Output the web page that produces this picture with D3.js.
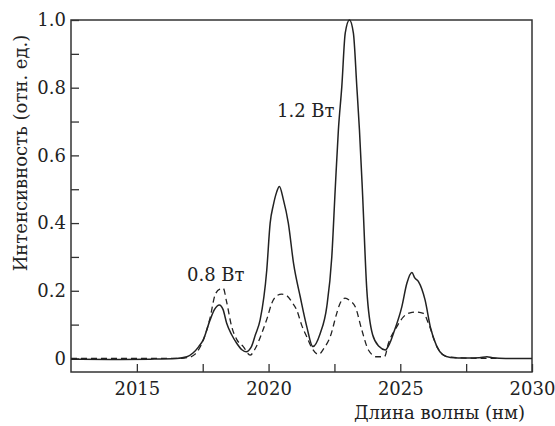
<!DOCTYPE html>
<html>
<head>
<meta charset="utf-8">
<script src="https://cdn.jsdelivr.net/npm/d3@7"></script>
<style>
	body { margin: 0; background: #fff; }
</style>
</head>
<body>
<svg id="chart" width="555" height="426"></svg>
<script>
// 1.2 W spectrum (solid)
const wl12 = [2012.5, 2014.0, 2015.5, 2016.5, 2016.9, 2017.13, 2017.35, 2017.52, 2017.78, 2017.95,
	2018.13, 2018.27, 2018.41, 2018.6, 2018.79, 2019.0, 2019.15, 2019.35, 2019.5, 2019.68,
	2019.93, 2020.06, 2020.18, 2020.3, 2020.41, 2020.56, 2020.75, 2020.95, 2021.2, 2021.45,
	2021.68, 2021.96, 2022.21, 2022.4, 2022.53, 2022.65, 2022.78, 2022.91, 2023.07, 2023.22,
	2023.35, 2023.45, 2023.56, 2023.73, 2023.95, 2024.2, 2024.43, 2024.6, 2024.74, 2025.06,
	2025.25, 2025.44, 2025.55, 2025.69, 2025.94, 2026.15, 2026.39, 2026.6, 2026.9, 2027.5,
	2028.0, 2028.29, 2028.5, 2029.0, 2030.0];
const int12 = [-0.002, -0.003, -0.002, 0.0, 0.005, 0.016, 0.035, 0.055, 0.114, 0.145,
	0.158, 0.145, 0.104, 0.07, 0.045, 0.025, 0.02, 0.035, 0.07, 0.114,
	0.26, 0.40, 0.453, 0.49, 0.508, 0.47, 0.40, 0.28, 0.183, 0.094,
	0.035, 0.074, 0.153, 0.30, 0.50, 0.675, 0.803, 0.961, 1.0, 0.961,
	0.803, 0.675, 0.50, 0.202, 0.07, 0.035, 0.025, 0.045, 0.074, 0.153,
	0.222, 0.254, 0.238, 0.227, 0.173, 0.09, 0.035, 0.012, 0.003, 0.001,
	0.002, 0.005, 0.002, 0.0, 0.0];

// 0.8 W spectrum (dashed)
const wl08 = [2012.5, 2016.5, 2017.0, 2017.2, 2017.5, 2017.78, 2017.97, 2018.15, 2018.28, 2018.4,
	2018.6, 2018.8, 2019.04, 2019.3, 2019.5, 2019.74, 2019.95, 2020.12, 2020.3, 2020.5,
	2020.7, 2020.9, 2021.07, 2021.25, 2021.45, 2021.65, 2021.9, 2022.1, 2022.34, 2022.59,
	2022.72, 2022.9, 2023.1, 2023.29, 2023.54, 2023.79, 2024.1, 2024.4, 2024.55, 2024.87,
	2025.12, 2025.37, 2025.6, 2025.88, 2026.07, 2026.39, 2026.77, 2027.5, 2028.8];
const int08 = [0.0, 0.0, 0.004, 0.012, 0.05, 0.12, 0.188, 0.205, 0.207, 0.17,
	0.094, 0.055, 0.035, 0.01, 0.03, 0.074, 0.12, 0.163, 0.185, 0.19,
	0.185, 0.165, 0.143, 0.1, 0.064, 0.03, 0.012, 0.03, 0.064, 0.134,
	0.164, 0.178, 0.17, 0.153, 0.084, 0.025, 0.005, 0.005, 0.045, 0.094,
	0.123, 0.135, 0.137, 0.133, 0.104, 0.035, 0.005, 0.001, 0.0];

const xTicks = [2015, 2020, 2025, 2030];
const xMinor = [2017.5, 2022.5, 2027.5];
const yTicks = [0, 0.2, 0.4, 0.6, 0.8, 1.0];
const yMinor = [0.1, 0.3, 0.5, 0.7, 0.9];
const yTickLabels = ['0', '0.2', '0.4', '0.6', '0.8', '1.0'];

const serif = 'DejaVu Serif';

const svg = d3.select('#chart');
const margin = {top: 20, right: 23, bottom: 54, left: 71};
const width = 555 - margin.left - margin.right;
const height = 426 - margin.top - margin.bottom;

const g = svg.append('g').attr('transform', 'translate(' + margin.left + ',' + margin.top + ')');

const x = d3.scaleLinear().domain([2012.5, 2030]).range([0, width]);
const y = d3.scaleLinear().domain([-0.04, 1.0]).range([height, 0]);

const tickCol = '#333';

// x axis, ticks inward
g.append('g')
	.attr('transform', 'translate(0,' + height + ')')
	.call(d3.axisBottom(x).tickValues(xTicks.concat(xMinor)).tickSize(-8).tickPadding(10)
		.tickFormat(function (d) { return xTicks.indexOf(d) >= 0 ? d : ''; }))
	.call(function (a) {
		a.attr('font-family', serif).attr('font-size', 18);
		a.select('.domain').remove();
		a.selectAll('.tick line').attr('stroke', tickCol).attr('stroke-width', 1.3);
		a.selectAll('.tick text').attr('fill', '#222');
	});

// y axis, ticks inward
g.append('g')
	.call(d3.axisLeft(y).tickValues(yTicks.concat(yMinor)).tickSize(-8).tickPadding(5)
		.tickFormat(function (d) { let i = yTicks.indexOf(d); return i >= 0 ? yTickLabels[i] : ''; }))
	.call(function (a) {
		a.attr('font-family', serif).attr('font-size', 18);
		a.select('.domain').remove();
		a.selectAll('.tick line').attr('stroke', tickCol).attr('stroke-width', 1.3);
		a.selectAll('.tick text').attr('fill', '#222');
	});

// frame
g.append('rect')
	.attr('x', 0).attr('y', 0)
	.attr('width', width).attr('height', height)
	.attr('fill', 'none')
	.attr('stroke', tickCol)
	.attr('stroke-width', 1.5);

const line = d3.line()
	.x(function (d) { return x(d[0]); })
	.y(function (d) { return y(d[1]); })
	.curve(d3.curveMonotoneX);

g.append('path')
	.datum(d3.zip(wl08, int08))
	.attr('d', line)
	.attr('fill', 'none')
	.attr('stroke', '#222')
	.attr('stroke-width', 1.3)
	.attr('stroke-dasharray', '6,4');

g.append('path')
	.datum(d3.zip(wl12, int12))
	.attr('d', line)
	.attr('fill', 'none')
	.attr('stroke', '#222')
	.attr('stroke-width', 1.5);

// curve labels
svg.append('text')
	.attr('x', 187).attr('y', 281)
	.attr('fill', '#222')
	.attr('font-family', serif)
	.attr('font-size', 18)
	.text('0.8 Вт');

svg.append('text')
	.attr('x', 277).attr('y', 117)
	.attr('fill', '#222')
	.attr('font-family', serif)
	.attr('font-size', 18)
	.text('1.2 Вт');

// axis titles
svg.append('text')
	.attr('x', 525).attr('y', 419)
	.attr('text-anchor', 'end')
	.attr('fill', '#222')
	.attr('font-family', serif)
	.attr('font-size', 18)
	.text('Длина волны (нм)');

svg.append('text')
	.attr('transform', 'translate(27,153) rotate(-90)')
	.attr('text-anchor', 'middle')
	.attr('fill', '#222')
	.attr('font-family', serif)
	.attr('font-size', 18)
	.text('Интенсивность (отн. ед.)');
</script>
</body>
</html>
